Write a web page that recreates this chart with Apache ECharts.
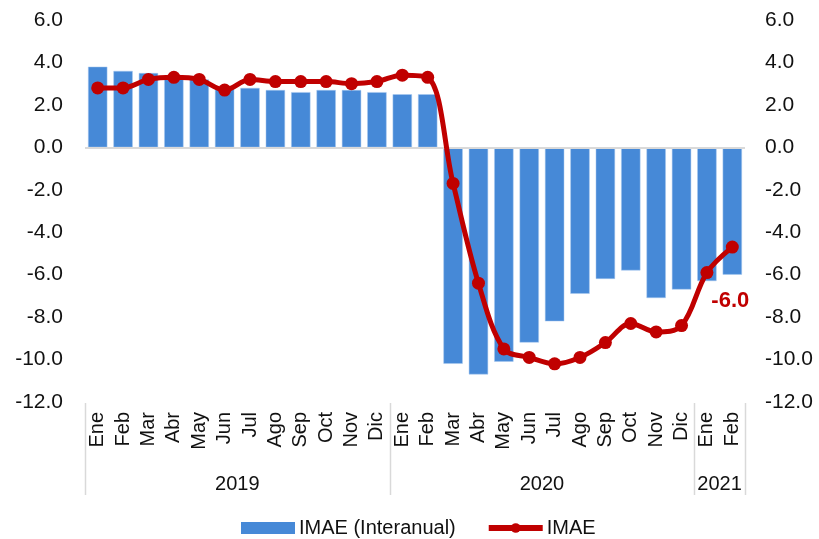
<!DOCTYPE html>
<html>
<head>
<meta charset="utf-8">
<script src="https://cdn.jsdelivr.net/npm/echarts@6/dist/echarts.min.js"></script>
<style>
  html, body { margin: 0; padding: 0; background: #fff; }
  #chart { width: 819px; height: 539px; }
</style>
</head>
<body>
<div id="chart"></div>
<script>
// meses y años
var months = ["Ene","Feb","Mar","Abr","May","Jun","Jul","Ago","Sep","Oct","Nov","Dic",
              "Ene","Feb","Mar","Abr","May","Jun","Jul","Ago","Sep","Oct","Nov","Dic",
              "Ene","Feb"];
var years = ["2019", "2020", "2021"];
var yearStart = [0, 12, 24];
var yearEnd = [11, 23, 25];

// IMAE interanual (barras)
var imaeInteranual = [3.8, 3.6, 3.5, 3.4, 3.2, 2.8, 2.8, 2.7, 2.6, 2.7, 2.7, 2.6,
                      2.5, 2.5, -10.2, -10.7, -10.1, -9.2, -8.2, -6.9, -6.2, -5.8, -7.1, -6.7,
                      -6.3, -6.0];
// IMAE (línea)
var imae = [2.8, 2.8, 3.2, 3.3, 3.2, 2.7, 3.2, 3.1, 3.1, 3.1, 3.0, 3.1,
            3.4, 3.3, -1.7, -6.4, -9.5, -9.9, -10.2, -9.9, -9.2, -8.3, -8.7, -8.4,
            -5.9, -4.7];

var yTicks = { min: -12, max: 6, interval: 2 };

var chart = echarts.init(document.getElementById("chart"));
var fontMain = "Liberation Sans, Arial, sans-serif";
var txtColor = "#111111";

var yAxisBase = {
  type: "value",
  min: yTicks.min,
  max: yTicks.max,
  interval: yTicks.interval,
  axisLine: { show: false },
  axisTick: { show: false },
  splitLine: { show: false },
  axisLabel: {
    color: txtColor,
    fontSize: 21,
    fontFamily: fontMain,
    margin: 22,
    formatter: function (v) { return v.toFixed(1); }
  }
};

var option = {
  animation: false,
  grid: { left: 85, right: 74, top: 20, bottom: 137, containLabel: false },
  legend: {
    bottom: -4,
    left: 236,
    itemGap: 30,
    itemWidth: 54,
    itemHeight: 12,
    textStyle: { fontSize: 20, fontFamily: fontMain, color: txtColor, padding: [0, 0, 0, -1] },
    data: [
      { name: "IMAE (Interanual)", icon: "rect", itemStyle: { borderWidth: 0 } },
      { name: "IMAE", lineStyle: { width: 6 } }
    ]
  },
  xAxis: {
    type: "category",
    data: months,
    axisLine: { show: false },
    axisTick: { show: false },
    axisLabel: {
      rotate: 90,
      interval: 0,
      margin: 10,
      fontSize: 20,
      fontFamily: fontMain,
      color: txtColor
    }
  },
  yAxis: [
    Object.assign({}, yAxisBase, { position: "left" }),
    Object.assign({}, yAxisBase, {
      position: "right",
      axisLabel: Object.assign({}, yAxisBase.axisLabel, { margin: 20 })
    })
  ],
  series: [
    {
      name: "IMAE (Interanual)",
      type: "bar",
      data: imaeInteranual.map(function (v, i) {
        if (i === imaeInteranual.length - 1) {
          return {
            value: v,
            label: {
              show: true,
              position: "bottom",
              distance: 15,
              offset: [-2, 0],
              color: "#c00000",
              fontWeight: "bold",
              fontSize: 22,
              fontFamily: fontMain,
              formatter: function (p) { return p.value.toFixed(1); }
            }
          };
        }
        return v;
      }),
      barCategoryGap: "24%",
      itemStyle: { color: "#4689d7", borderColor: "#a9c8ee", borderWidth: 0.5 },
      markLine: {
        silent: true,
        symbol: "none",
        label: { show: false },
        lineStyle: { color: "#d9d9d9", width: 2, type: "solid" },
        data: [{ yAxis: 0 }]
      }
    },
    {
      name: "IMAE",
      type: "line",
      data: imae,
      smooth: 0.35,
      symbol: "circle",
      symbolSize: 13,
      lineStyle: { color: "#c00000", width: 5 },
      itemStyle: { color: "#c00000" },
      z: 5
    }
  ]
};

chart.setOption(option);

// separadores y etiquetas de años, usando la escala del eje
function drawYears() {
  var half = chart.convertToPixel({ xAxisIndex: 0 }, 1) - chart.convertToPixel({ xAxisIndex: 0 }, 0);
  half = half / 2;
  var yTop = chart.convertToPixel({ yAxisIndex: 0 }, yTicks.min);
  var yBottom = yTop + 93;
  var els = [];
  var bounds = [];
  for (var k = 0; k < years.length; k++) {
    var x0 = chart.convertToPixel({ xAxisIndex: 0 }, yearStart[k]) - half;
    var x1 = chart.convertToPixel({ xAxisIndex: 0 }, yearEnd[k]) + half;
    bounds.push(x0);
    if (k === years.length - 1) bounds.push(x1);
    els.push({
      type: "text",
      x: (x0 + x1) / 2,
      y: yBottom - 11,
      style: {
        text: years[k],
        fill: txtColor,
        font: "20px " + fontMain,
        align: "center",
        verticalAlign: "middle"
      }
    });
  }
  bounds.forEach(function (bx) {
    els.push({
      type: "line",
      shape: { x1: Math.round(bx) + 0.5, y1: yTop + 1, x2: Math.round(bx) + 0.5, y2: yBottom },
      style: { stroke: "#d9d9d9", lineWidth: 1.5 }
    });
  });
  chart.setOption({ graphic: els });
}
drawYears();
</script>
</body>
</html>
